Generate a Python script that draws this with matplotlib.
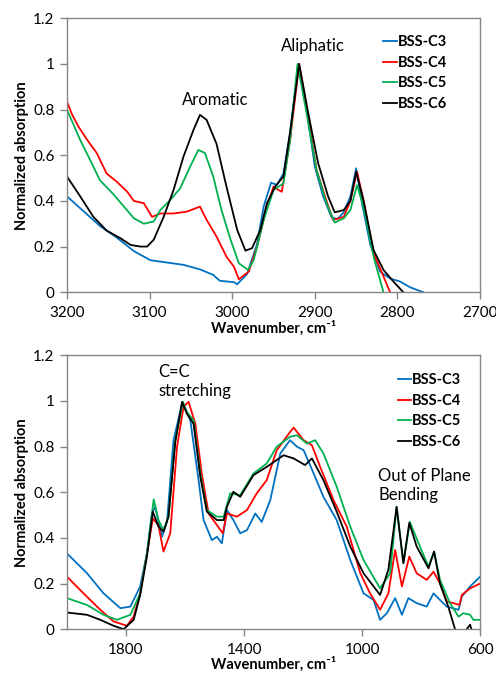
import numpy as np
import matplotlib
matplotlib.use("Agg")
import matplotlib.pyplot as plt

plt.rcParams['font.family'] = ['Lato', 'DejaVu Sans']

names = ["BSS-C3", "BSS-C4", "BSS-C5", "BSS-C6"]
colors = ["#0070C0", "#FF0000", "#00B050", "#000000"]

# ---- top panel: C-H stretching region (wavenumber, absorption)
top_c3_x = [3200, 3160, 3140, 3119, 3099, 3079, 3059, 3039, 3023, 3015, 2998, 2994, 2982, 2970, 2962,
            2953, 2946, 2938, 2930, 2920, 2910, 2900, 2890, 2880, 2873, 2865, 2857, 2850, 2843, 2833,
            2821, 2809, 2797, 2785, 2769]
top_c3_y = [0.42, 0.29, 0.24, 0.18, 0.14, 0.13, 0.12, 0.10, 0.076, 0.05, 0.044, 0.035, 0.08, 0.21, 0.375,
            0.48, 0.47, 0.52, 0.70, 1.0, 0.80, 0.55, 0.42, 0.33, 0.32, 0.35, 0.42, 0.543, 0.39, 0.21,
            0.09, 0.06, 0.047, 0.022, 0.0]
top_c4_x = [3200, 3194, 3186, 3176, 3164, 3152, 3140, 3127, 3119, 3107, 3097, 3087, 3071, 3055, 3039,
            3031, 3019, 3007, 2998, 2992, 2980, 2970, 2958, 2950, 2944, 2940, 2930, 2919, 2910, 2898,
            2886, 2878, 2865, 2857, 2849, 2841, 2829, 2817, 2809]
top_c4_y = [0.835, 0.78, 0.725, 0.67, 0.61, 0.52, 0.485, 0.44, 0.40, 0.39, 0.33, 0.345, 0.345, 0.353, 0.375,
            0.317, 0.244, 0.156, 0.112, 0.057, 0.09, 0.20, 0.375, 0.463, 0.448, 0.44, 0.667, 1.0, 0.81, 0.536,
            0.40, 0.317, 0.33, 0.40, 0.528, 0.40, 0.17, 0.07, 0.0]
top_c5_x = [3200, 3184, 3172, 3160, 3144, 3131, 3119, 3107, 3095, 3087, 3075, 3063, 3051, 3041, 3033,
            3023, 3013, 3002, 2992, 2981, 2974, 2962, 2950, 2938, 2930, 2921, 2910, 2898, 2886, 2876,
            2865, 2857, 2849, 2841, 2829, 2817]
top_c5_y = [0.80, 0.667, 0.58, 0.49, 0.43, 0.375, 0.324, 0.30, 0.31, 0.36, 0.404, 0.455, 0.55, 0.623, 0.61,
            0.507, 0.36, 0.23, 0.127, 0.098, 0.14, 0.317, 0.448, 0.477, 0.667, 1.0, 0.784, 0.536, 0.39, 0.305,
            0.324, 0.36, 0.469, 0.375, 0.156, 0.0]
top_c6_x = [3200, 3184, 3168, 3152, 3135, 3123, 3111, 3103, 3095, 3083, 3071, 3059, 3047, 3039, 3031,
            3019, 3007, 2994, 2984, 2976, 2966, 2958, 2948, 2938, 2930, 2919, 2908, 2896, 2884, 2876,
            2865, 2857, 2850, 2841, 2829, 2817, 2805, 2793]
top_c6_y = [0.507, 0.42, 0.33, 0.27, 0.236, 0.207, 0.20, 0.20, 0.23, 0.33, 0.448, 0.594, 0.71, 0.777, 0.755,
            0.65, 0.463, 0.273, 0.182, 0.193, 0.273, 0.39, 0.463, 0.507, 0.70, 1.0, 0.784, 0.565, 0.42, 0.35,
            0.36, 0.40, 0.528, 0.40, 0.185, 0.098, 0.047, 0.0]

# ---- bottom panel: fingerprint region
bot_c3_x = [2000, 1932, 1876, 1819, 1785, 1752, 1729, 1712, 1701, 1678, 1661, 1639, 1610, 1599, 1582,
            1554, 1537, 1509, 1492, 1475, 1458, 1436, 1413, 1390, 1362, 1340, 1311, 1277, 1244, 1221,
            1198, 1164, 1131, 1086, 1040, 995, 961, 939, 916, 888, 865, 843, 815, 781, 758, 736, 713,
            673, 662, 634, 600]
bot_c3_y = [0.332, 0.245, 0.157, 0.092, 0.099, 0.187, 0.332, 0.507, 0.536, 0.405, 0.47, 0.828, 0.988, 0.966, 0.915,
            0.653, 0.478, 0.39, 0.405, 0.376, 0.522, 0.478, 0.42, 0.434, 0.507, 0.47, 0.566, 0.77, 0.828, 0.80,
            0.784, 0.682, 0.58, 0.478, 0.303, 0.157, 0.128, 0.041, 0.07, 0.136, 0.063, 0.136, 0.114, 0.099, 0.157,
            0.128, 0.099, 0.085, 0.143, 0.187, 0.23]
bot_c4_x = [2000, 1944, 1887, 1842, 1797, 1774, 1752, 1729, 1709, 1690, 1673, 1650, 1627, 1605, 1588,
            1565, 1543, 1520, 1492, 1472, 1458, 1424, 1390, 1357, 1323, 1289, 1244, 1232, 1198, 1170,
            1142, 1097, 1052, 1006, 973, 939, 911, 888, 865, 840, 815, 781, 758, 736, 713, 690, 670,
            662, 634, 600]
bot_c4_y = [0.23, 0.157, 0.085, 0.034, 0.015, 0.055, 0.157, 0.332, 0.485, 0.456, 0.34, 0.42, 0.80, 0.974, 0.996,
            0.90, 0.68, 0.507, 0.456, 0.42, 0.507, 0.493, 0.522, 0.595, 0.653, 0.784, 0.864, 0.883, 0.828, 0.806,
            0.711, 0.566, 0.449, 0.245, 0.157, 0.085, 0.157, 0.347, 0.187, 0.318, 0.245, 0.216, 0.252, 0.20,
            0.121, 0.114, 0.106, 0.15, 0.179, 0.20]
bot_c5_x = [2000, 1932, 1876, 1831, 1785, 1752, 1729, 1706, 1690, 1673, 1656, 1633, 1607, 1594, 1571,
            1548, 1526, 1492, 1469, 1447, 1413, 1368, 1323, 1289, 1244, 1221, 1187, 1159, 1131, 1086,
            1040, 995, 939, 905, 883, 860, 838, 804, 775, 756, 736, 702, 673, 657, 634, 623, 600]
bot_c5_y = [0.136, 0.106, 0.063, 0.041, 0.063, 0.157, 0.332, 0.569, 0.478, 0.434, 0.493, 0.828, 0.996, 0.952, 0.915,
            0.68, 0.522, 0.493, 0.493, 0.595, 0.587, 0.682, 0.726, 0.80, 0.843, 0.85, 0.813, 0.828, 0.77, 0.624,
            0.449, 0.303, 0.179, 0.245, 0.536, 0.289, 0.47, 0.362, 0.274, 0.34, 0.216, 0.114, 0.055, 0.07,
            0.063, 0.041, 0.041]
bot_c6_x = [2000, 1932, 1887, 1842, 1808, 1774, 1752, 1729, 1709, 1690, 1673, 1656, 1633, 1610, 1594,
            1571, 1548, 1526, 1492, 1469, 1458, 1436, 1413, 1368, 1323, 1266, 1232, 1193, 1170, 1131,
            1086, 1040, 995, 939, 911, 883, 860, 840, 815, 775, 756, 736, 708, 685, 662, 634, 623]
bot_c6_y = [0.073, 0.063, 0.041, 0.015, 0.0, 0.041, 0.15, 0.318, 0.515, 0.449, 0.427, 0.493, 0.82, 0.996, 0.945,
            0.90, 0.667, 0.515, 0.478, 0.478, 0.536, 0.602, 0.58, 0.675, 0.711, 0.762, 0.748, 0.719, 0.748, 0.653,
            0.515, 0.362, 0.245, 0.15, 0.26, 0.536, 0.289, 0.466, 0.362, 0.267, 0.34, 0.20, 0.099, 0.0, -0.03,
            0.02, -0.03]

top_series = [(top_c3_x, top_c3_y), (top_c4_x, top_c4_y), (top_c5_x, top_c5_y), (top_c6_x, top_c6_y)]
bot_series = [(bot_c3_x, bot_c3_y), (bot_c4_x, bot_c4_y), (bot_c5_x, bot_c5_y), (bot_c6_x, bot_c6_y)]

fig = plt.figure(figsize=(4.96, 6.78), dpi=100)
ax1 = fig.add_axes([0.135, 0.569, 0.833, 0.404])
ax2 = fig.add_axes([0.135, 0.072, 0.833, 0.404])

gray = "#868686"

def style(ax):
    for s in ax.spines.values():
        s.set_color(gray)
        s.set_linewidth(1.0)
    ax.tick_params(direction='out', length=5, color=gray, labelsize=11, width=1.0)
    ax.tick_params(axis='x', pad=5)
    ax.tick_params(axis='y', pad=4)
    ax.set_ylim(0, 1.2)
    ax.set_yticks([0, 0.2, 0.4, 0.6, 0.8, 1, 1.2])
    ax.set_yticklabels(["0", "0.2", "0.4", "0.6", "0.8", "1", "1.2"])
    ax.set_ylabel("Normalized absorption", fontweight='bold', fontsize=10.5, labelpad=3)
    ax.set_xlabel("Wavenumber, cm\u207b\u00b9", fontweight='bold', fontsize=10.5, labelpad=0)

for (x, y), c, n in zip(top_series, colors, names):
    ax1.plot(x, y, color=c, lw=1.3, label=n)
ax1.set_xlim(3200, 2700)
ax1.set_xticks([3200, 3100, 3000, 2900, 2800, 2700])
style(ax1)
ax1.text(3021, 0.84, "Aromatic", ha='center', va='center', fontsize=12)
ax1.text(2902, 1.08, "Aliphatic", ha='center', va='center', fontsize=12)
ax1.legend(loc='upper left', bbox_to_anchor=(0.752, 0.96), frameon=False, handlelength=0.9,
           handletextpad=0.1, labelspacing=0.45, borderaxespad=0,
           prop={'weight': 'bold', 'size': 10.5})

for (x, y), c, n in zip(bot_series, colors, names):
    ax2.plot(x, y, color=c, lw=1.3, label=n)
ax2.set_xlim(2000, 600)
ax2.set_xticks([1800, 1400, 1000, 600])
style(ax2)
ax2.text(1691, 1.085, "C=C\nstretching", ha='left', va='center', fontsize=12, linespacing=1.2)
ax2.text(946, 0.63, "Out of Plane\nBending", ha='left', va='center', fontsize=12, linespacing=1.2)
ax2.legend(loc='upper left', bbox_to_anchor=(0.786, 0.956), frameon=False, handlelength=0.9,
           handletextpad=0.1, labelspacing=0.45, borderaxespad=0,
           prop={'weight': 'bold', 'size': 10.5})

fig.savefig("out.png", dpi=100)
